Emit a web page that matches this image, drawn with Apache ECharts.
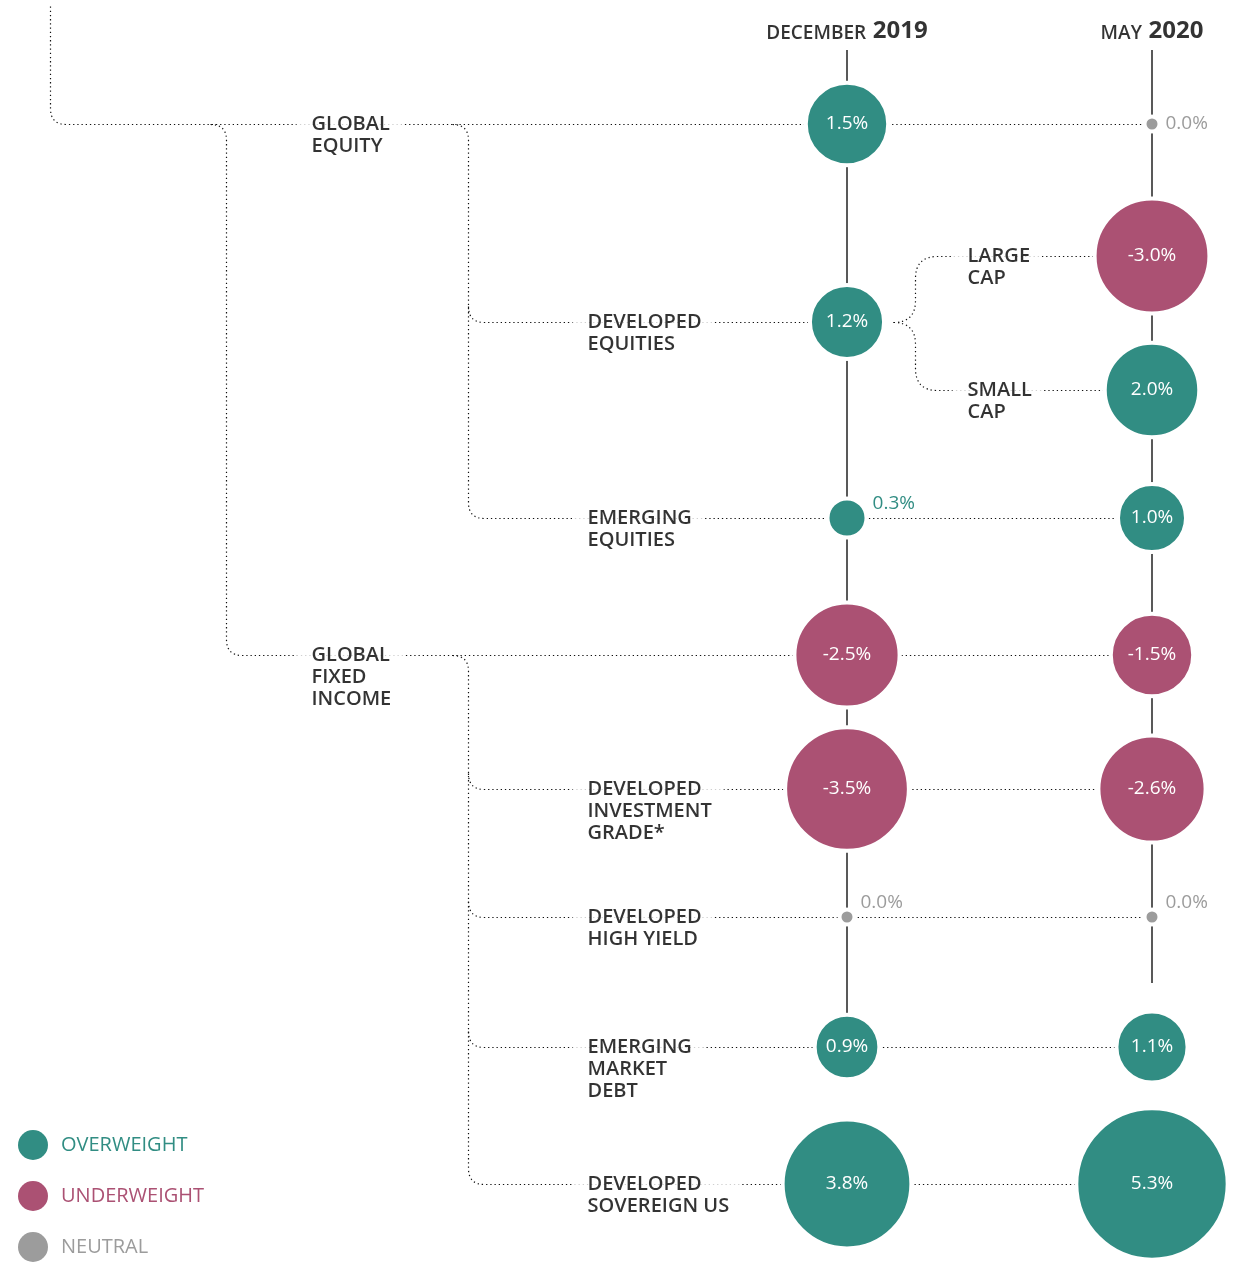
<!DOCTYPE html>
<html>
<head>
<meta charset="utf-8">
<script src="https://cdn.jsdelivr.net/npm/echarts@6/dist/echarts.min.js"></script>
<style>
  html, body { margin: 0; padding: 0; background: #fff; }
  #chart { width: 1249px; height: 1270px; }
</style>
</head>
<body>
<div id="chart"></div>
<script>
// allocation tilts (% vs benchmark)
const rows = [
  'GLOBAL\nEQUITY',
  'DEVELOPED\nEQUITIES',
  'LARGE\nCAP',
  'SMALL\nCAP',
  'EMERGING\nEQUITIES',
  'GLOBAL\nFIXED\nINCOME',
  'DEVELOPED\nINVESTMENT\nGRADE*',
  'DEVELOPED\nHIGH YIELD',
  'EMERGING\nMARKET\nDEBT',
  'DEVELOPED\nSOVEREIGN US'
];
const dec2019 = [1.5, 1.2, null, null, 0.3, -2.5, -3.5, 0.0, 0.9, 3.8];
const may2020 = [0.0, null, -3.0, 2.0, 1.0, -1.5, -2.6, 0.0, 1.1, 5.3];
const columns = ['DECEMBER 2019', 'MAY 2020'];
const legendNames = ['OVERWEIGHT', 'UNDERWEIGHT', 'NEUTRAL'];

// layout, in pixels of the 1249x1270 canvas
const ROW_Y = [124, 322, 256, 390, 518, 655, 789, 917, 1047, 1184];
const LABEL_X = [312, 588, 968, 968, 588, 312, 588, 588, 588, 588];
const COL_X = [847, 1152];
const COL_LINE = [[50, 1040], [50, 983]];
const HEADER_Y = 29;
const R = 16;

const COLORS = {
  OVERWEIGHT: '#318d83',
  UNDERWEIGHT: '#ab5173',
  NEUTRAL: '#9c9c9c'
};
const FONT = "'Open Sans', 'Noto Sans', sans-serif";

// tree connectors (dotted); each edge drawn once, from its branch point
const Y = ROW_Y;
const connectors = [
  [[50, 6], [50, Y[0]], [COL_X[1], Y[0]]],
  [[226 - R, Y[0]], [226, Y[0]], [226, Y[5]], [COL_X[1], Y[5]]],
  [[468 - R, Y[0]], [468, Y[0]], [468, Y[4]], [COL_X[1], Y[4]]],
  [[468, Y[1] - R], [468, Y[1]], [COL_X[0], Y[1]]],
  [[893, Y[1]], [915, Y[1]], [915, Y[2]], [COL_X[1], Y[2]]],
  [[893, Y[1]], [915, Y[1]], [915, Y[3]], [COL_X[1], Y[3]]],
  [[468 - R, Y[5]], [468, Y[5]], [468, Y[9]], [COL_X[1], Y[9]]],
  [[468, Y[6] - R], [468, Y[6]], [COL_X[1], Y[6]]],
  [[468, Y[7] - R], [468, Y[7]], [COL_X[1], Y[7]]],
  [[468, Y[8] - R], [468, Y[8]], [COL_X[1], Y[8]]]
];
const CORNER = [R, R, R, R, 22, 22, R, R, R, R];

function roundedPath(pts, r) {
  let d = 'M' + pts[0][0] + ' ' + pts[0][1];
  for (let i = 1; i < pts.length - 1; i++) {
    const p = pts[i - 1], c = pts[i], n = pts[i + 1];
    const l1 = Math.hypot(c[0] - p[0], c[1] - p[1]);
    const l2 = Math.hypot(n[0] - c[0], n[1] - c[1]);
    const rr = Math.min(r, l1, l2);
    const ax = c[0] - (c[0] - p[0]) / l1 * rr, ay = c[1] - (c[1] - p[1]) / l1 * rr;
    const bx = c[0] + (n[0] - c[0]) / l2 * rr, by = c[1] + (n[1] - c[1]) / l2 * rr;
    d += ' L' + ax + ' ' + ay + ' Q' + c[0] + ' ' + c[1] + ' ' + bx + ' ' + by;
  }
  const last = pts[pts.length - 1];
  return d + ' L' + last[0] + ' ' + last[1];
}

function kind(v) {
  return v > 0 ? 'OVERWEIGHT' : (v < 0 ? 'UNDERWEIGHT' : 'NEUTRAL');
}

function bubbles(name) {
  const out = [];
  [dec2019, may2020].forEach(function (vals, c) {
    vals.forEach(function (v, i) {
      if (v == null || kind(v) !== name) return;
      const item = { value: [COL_X[c], ROW_Y[i], v] };
      if (Math.abs(v) < 0.5) {
        item.label = {
          position: 'right',
          distance: 4,
          color: COLORS[name],
          offset: [0, i === 0 ? 0 : -14]
        };
      }
      out.push(item);
    });
  });
  return out;
}

const chart = echarts.init(document.getElementById('chart'));

const bubbleSeries = legendNames.map(function (name) {
  return {
    name: name,
    type: 'scatter',
    z: 3,
    silent: true,
    data: bubbles(name),
    symbolSize: function (val) {
      return val[2] === 0 ? 15 : 64 * Math.sqrt(Math.abs(val[2])) + 4;
    },
    itemStyle: { color: COLORS[name], borderColor: '#fff', borderWidth: 4, opacity: 1 },
    label: {
      show: true,
      position: 'inside',
      color: '#fff',
      fontFamily: FONT,
      fontSize: 19,
      formatter: function (p) { return p.value[2].toFixed(1) + '%'; }
    }
  };
});

const option = {
  animation: false,
  backgroundColor: '#fff',
  grid: { left: 0, right: 0, top: 0, bottom: 0 },
  xAxis: { type: 'value', min: 0, max: 1249, show: false },
  yAxis: { type: 'value', min: 0, max: 1270, inverse: true, show: false },
  legend: {
    data: legendNames.map(function (n) {
      return { name: n, textStyle: { color: COLORS[n] } };
    }),
    orient: 'vertical',
    left: 18,
    top: 1130,
    padding: 0,
    icon: 'circle',
    itemWidth: 30,
    itemHeight: 30,
    itemGap: 21,
    selectedMode: false,
    itemStyle: { borderWidth: 0 },
    textStyle: { fontFamily: FONT, fontSize: 20, padding: [0, 0, 0, 8] }
  },
  series: [
    {
      type: 'custom',
      z: 1,
      silent: true,
      clip: false,
      data: connectors.map(function (_, i) { return [i]; }),
      renderItem: function (params, api) {
        const pts = connectors[params.dataIndex].map(function (p) {
          const c = api.coord(p);
          return [c[0] + 0.5, c[1] + 0.5];
        });
        return {
          type: 'path',
          shape: { pathData: roundedPath(pts, CORNER[params.dataIndex]) },
          style: { fill: 'none', stroke: '#111', lineWidth: 1.2, lineDash: [1.3, 2.9] }
        };
      }
    },
    {
      type: 'custom',
      z: 2,
      silent: true,
      clip: false,
      data: columns.map(function (_, i) { return [i]; }),
      renderItem: function (params, api) {
        const i = params.dataIndex;
        const a = api.coord([COL_X[i], COL_LINE[i][0]]);
        const b = api.coord([COL_X[i], COL_LINE[i][1]]);
        return {
          type: 'line',
          shape: { x1: a[0], y1: a[1], x2: b[0], y2: b[1] },
          style: { stroke: '#222', lineWidth: 1.5 }
        };
      }
    }
  ].concat(bubbleSeries).concat([
    {
      name: 'rows',
      type: 'scatter',
      z: 4,
      silent: true,
      symbolSize: 1,
      itemStyle: { color: 'rgba(0,0,0,0)' },
      data: rows.map(function (r, i) {
        return { name: r, value: [LABEL_X[i] - 15, ROW_Y[i] + 1] };
      }),
      label: {
        show: true,
        formatter: '{b}',
        position: [0, -11],
        align: 'left',
        verticalAlign: 'top',
        fontFamily: FONT,
        fontSize: 20,
        fontWeight: 600,
        lineHeight: 22,
        color: '#000',
        backgroundColor: '#fff',
        padding: [0, 12, 0, 15]
      }
    },
    {
      name: 'columns',
      type: 'scatter',
      z: 4,
      silent: true,
      symbolSize: 1,
      itemStyle: { color: 'rgba(0,0,0,0)' },
      data: columns.map(function (c, i) {
        return { name: c, value: [COL_X[i], HEADER_Y] };
      }),
      label: {
        show: true,
        position: 'inside',
        formatter: function (p) {
          const parts = p.name.split(' ');
          return '{a|' + parts[0] + '}  {b|' + parts[1] + '}';
        },
        rich: {
          a: { fontFamily: FONT, fontSize: 19, fontWeight: 600, color: '#000', verticalAlign: 'bottom', lineHeight: 28 },
          b: { fontFamily: FONT, fontSize: 24, fontWeight: 'bold', color: '#000', verticalAlign: 'bottom', lineHeight: 28 }
        }
      }
    }
  ])
};

chart.setOption(option);
</script>
</body>
</html>
